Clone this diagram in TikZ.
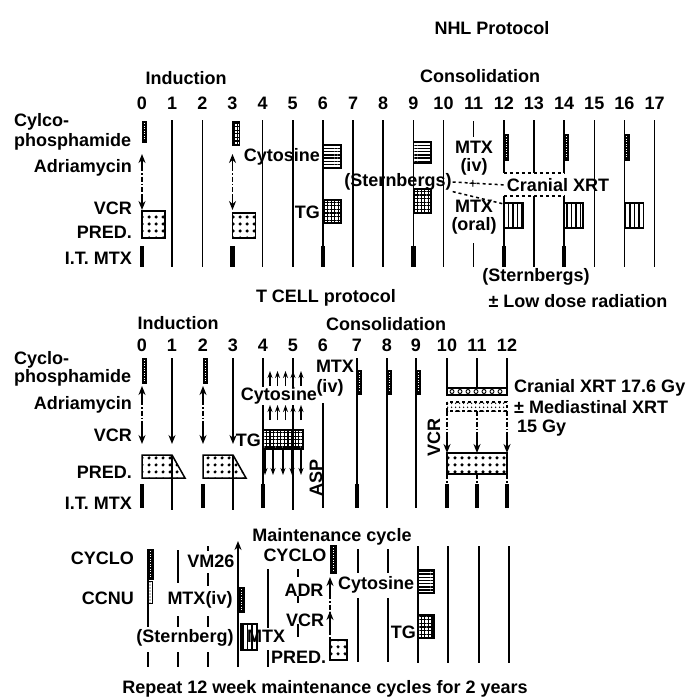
\documentclass[tikz,border=0pt]{standalone}
\usepackage{fontspec}
\setmainfont{Liberation Sans}
\usetikzlibrary{patterns.meta,arrows.meta}

\tikzset{
  wk/.style={line width=1.5pt},
  itbar/.style={line width=4.5pt},
  ddot/.style={line width=1.5pt, dash pattern=on 5pt off 2pt on 1.5pt off 2pt},
  arr/.style={line width=1.5pt, -{Stealth[length=9pt, width=7pt]}},
  sarr/.style={line width=1.3pt, -{Stealth[length=7pt, width=5pt]}},
  pred/.style={draw, line width=1.5pt, pattern={Dots[distance=6.5pt, radius=1.8pt]}},
  tgbox/.style={draw, line width=1.5pt, pattern={Hatch[distance=3.6pt, angle=0, line width=1.2pt]}},
  cytbox/.style={draw, line width=1.5pt, pattern={Lines[distance=3.2pt, angle=0, line width=1.4pt]}},
  oral/.style={draw, line width=1.5pt, pattern={Lines[distance=4.5pt, angle=90, line width=1.1pt]}},
  blk/.style={draw, line width=0.8pt, fill=black},
  wdot/.style={white, line width=1pt, dash pattern=on 1pt off 1.5pt},
  xrt/.style={dashed, line width=1.5pt}
}

\begin{document}
\begin{tikzpicture}[x=1pt, y=-1pt, inner sep=1pt, font=\bfseries\fontsize{18}{20}\selectfont]
  \useasboundingbox (0,0) rectangle (690,699);
  % NHL protocol
  \node (nhl) at (492,28) {NHL Protocol};
  \node (ind1) at (186,78) {Induction};
  \node (con1) at (480,76) {Consolidation};
  \foreach \i [evaluate=\i as \x using 142+30.15*\i] in {0,...,17}
    \node (w1-\i) at (\x,103) {\i};
  % week lines
  \foreach \i [evaluate=\i as \x using 142+30.15*\i] in {1,2,4,5,6,7,8,9,10,15,16,17}
    \draw[wk] (\x,120) -- (\x,267);
  \foreach \i [evaluate=\i as \x using 142+30.15*\i] in {12,13,14}
    \draw[wk] (\x,120) -- (\x,173) (\x,196) -- (\x,267);
  \draw[wk] (473.7,121) -- (473.7,137) (473.7,243) -- (473.7,267);
  % drugs
  \node[anchor=west] (cy1) at (13,122) {Cylco-};
  \node[anchor=west] (ph1) at (13,142) {phosphamide};
  \node[anchor=east] (ad1) at (133,168) {Adriamycin};
  \node[anchor=east] (vc1) at (133,208) {VCR};
  \node[anchor=east] (pr1) at (133,232) {PRED.};
  \node[anchor=east] (it1) at (133,258) {I.T. MTX};
  % weeks 0 and 3
  \filldraw[blk] (142,121) rectangle (146.5,142);
  \draw[wdot] (144.2,123) -- (144.2,140);
  \draw[tgbox] (232.5,122) rectangle (239.5,145);
  \foreach \x in {142,232.5} {
    \draw[ddot] (\x,166) -- (\x,198);
    \draw[arr] (\x,170) -- (\x,154);
    \draw[arr] (\x,194) -- (\x,210);
  }
  \draw[pred] (142,211) rectangle (165,238);
  \draw[pred] (232.5,213) rectangle (255.5,238);
  \foreach \x in {142,232.5,322.9,413.4,503.8,564.1}
    \draw[itbar] (\x,246) -- (\x,267);
  % cytosine and TG
  \draw[cytbox] (322.9,145) rectangle (341,168);
  \draw[cytbox] (413.4,142) rectangle (431,163);
  \draw[tgbox] (322.9,200) rectangle (341,223);
  \draw[tgbox] (413.4,189) rectangle (431,213);
  \node[anchor=east] (cs1) at (321,157) {Cytosine};
  \node[anchor=east] (tg1) at (321,212) {TG};
  % MTX iv and oral
  \foreach \x in {503.8,564.1,624.4} {
    \filldraw[blk] (\x,134) rectangle (\x+4.5,160);
    \draw[wdot] (\x+2.2,136) -- (\x+2.2,158);
    \draw[oral] (\x,203) rectangle (\x+19,228);
  }
  \node (mi1) at (474,147) {MTX};
  \node (iv1) at (474,167) {(iv)};
  \node (mo1) at (474,206) {MTX};
  \node (or1) at (474,226) {(oral)};
  % cranial XRT
  \node (sb1) at (398,182) {(Sternbergs)};
  \node (cx1) at (558,185) {Cranial XRT};
  \coordinate (ob12) at (503.8,204);
  \draw[xrt] (sb1.east) -- (cx1.west);
  \draw[xrt] (sb1.south east) -- (ob12);
  \draw[xrt] (503.8,173) -- (564.1,173) (503.8,196) -- (564.1,196);
  \node[font=\mdseries\fontsize{14}{14}\selectfont] (pl1) at (473,184) {+};
  \node (sb2) at (536,277) {(Sternbergs)};
  \node (ld1) at (578,301) {± Low dose radiation};

  % T CELL protocol
  \node (tc) at (326,298) {T CELL protocol};
  \node (ind2) at (178,323) {Induction};
  \node (con2) at (386,324) {Consolidation};
  \foreach \x [count=\i from 0] in {142,172,203,233,263,293,323,357,387,416,447,477,507}
    \node (w2-\i) at (\x,345) {\i};
  % drugs
  \node[anchor=west] (cy2) at (13,360) {Cyclo-};
  \node[anchor=west] (ph2) at (13,378) {phosphamide};
  \node[anchor=east] (ad2) at (133,405) {Adriamycin};
  \node[anchor=east] (vc2) at (133,435) {VCR};
  \node[anchor=east] (pr2) at (133,472) {PRED.};
  \node[anchor=east] (it2) at (133,503) {I.T. MTX};
  % induction
  \foreach \x in {142,203} {
    \filldraw[blk] (\x,358) rectangle (\x+4.5,383);
    \draw[wdot] (\x+2.2,360) -- (\x+2.2,381);
    \draw[ddot] (\x,400) -- (\x,430);
    \draw[arr] (\x,404) -- (\x,386);
    \draw[arr] (\x,426) -- (\x,444);
  }
  \foreach \x in {172,233} {
    \draw[arr] (\x,358) -- (\x,444);
    \draw[wk] (\x,455) -- (\x,510);
  }
  \draw[pred] (142,455) -- (172,455) -- (185,478) -- (142,478) -- cycle;
  \draw[pred] (203,455) -- (233,455) -- (246,478) -- (203,478) -- cycle;
  \foreach \x in {142,203,263,357,447,477,507}
    \draw[itbar] (\x,484) -- (\x,508);
  % weeks 4 and 5
  \draw[wk] (263,358) -- (263,430) (263,448) -- (263,484);
  \draw[wk] (293,358) -- (293,510);
  \foreach \x in {270,277.5,285.5,293,301} {
    \draw[sarr] (\x,386) -- (\x,371);
    \draw[sarr] (\x,420) -- (\x,405);
  }
  \draw[tgbox] (263,430) rectangle (303,449);
  \foreach \x in {265,273,283,292,301}
    \draw[sarr] (\x,449) -- (\x,475);
  \node[fill=white] (cs2) at (279,396) {Cytosine};
  \node[anchor=east] (tg2) at (262,440) {TG};
  \node[rotate=90] (asp) at (316,478) {ASP};
  % consolidation
  \node (mi2) at (335,366) {MTX};
  \node (iv2) at (330,388) {(iv)};
  \draw[wk] (323,403) -- (323,508);
  \foreach \x in {357,387,416} {
    \draw[wk] (\x,358) -- (\x,508);
    \filldraw[blk] (\x,370) rectangle (\x+4.5,394);
    \draw[wdot] (\x+2.2,372) -- (\x+2.2,392);
  }
  \node[rotate=90] (vc3) at (434,437) {VCR};
  \foreach \x in {447,477,507} {
    \draw[wk] (\x,358) -- (\x,388);
    \draw[ddot] (\x,411) -- (\x,440);
    \draw[arr] (\x,434) -- (\x,453);
    \draw[ddot] (\x,474) -- (\x,484);
  }
  \draw[line width=1.5pt] (447,388) rectangle (507,395);
  \foreach \x in {452,460,...,502}
    \draw[line width=0.9pt] (\x,391.5) circle (2);
  \draw[xrt, pattern={Dots[distance=4pt, radius=1pt]}] (447,402) rectangle (507,411);
  \draw[pred] (447,453) rectangle (507,474);
  \node[anchor=west] (cr2) at (513,388) {Cranial XRT 17.6 Gy};
  \node[anchor=west] (md2) at (513,407) {± Mediastinal XRT};
  \node[anchor=west] (gy2) at (516,428) {15 Gy};

  % maintenance cycle
  \node (mc) at (332,537) {Maintenance cycle};
  \node[anchor=east] (cyl3) at (135,558) {CYCLO};
  \node[anchor=east] (ccn3) at (135,598) {CCNU};
  \draw[wk] (148,549) -- (148,627) (148,652) -- (148,667);
  \filldraw[blk] (148,549) rectangle (153,579);
  \draw[wdot] (150.5,551) -- (150.5,577);
  \draw[line width=1pt, pattern={Dots[distance=3pt, radius=0.7pt]}] (148,581) rectangle (152,603);
  \draw[wk] (178,550) -- (178,583) (178,616) -- (178,627) (178,652) -- (178,667);
  \draw[wk] (208,546) -- (208,551) (208,573) -- (208,586) (208,616) -- (208,627) (208,652) -- (208,667);
  \draw[arr] (238,667) -- (238,541);
  \filldraw[blk] (238,587) rectangle (244,612);
  \draw[wdot] (241,589) -- (241,610);
  \draw[oral] (241,624) rectangle (257,650);
  \draw[wk] (268,569) -- (268,628) (268,650) -- (268,667);
  \draw[wk] (298,569) -- (298,577) (298,596) -- (298,603) (298,624) -- (298,637);
  \node (vm) at (211,561) {VM26};
  \node (mi3) at (200,600) {MTX(iv)};
  \node (sb3) at (185,638) {(Sternberg)};
  \node[anchor=west] (mo3) at (246,636) {MTX};
  % second half
  \node (cyl4) at (295,555) {CYCLO};
  \node (adr) at (304,590) {ADR};
  \node (vc4) at (305,620) {VCR};
  \node[anchor=west] (pr4) at (270,657) {PRED.};
  \filldraw[blk] (330,545) rectangle (336,573);
  \draw[wdot] (333,547) -- (333,571);
  \draw[arr] (330,594) -- (330,577);
  \draw[ddot] (330,594) -- (330,616);
  \draw[arr] (330,630) -- (330,611);
  \draw[ddot] (330,630) -- (330,640);
  \draw[pred] (330,640) rectangle (347,660);
  \foreach \x in {358,388}
    \draw[wk] (\x,549) -- (\x,573) (\x,598) -- (\x,662);
  \foreach \x in {418,448,479,509}
    \draw[wk] (\x,546) -- (\x,663);
  \draw[cytbox] (418,570) rectangle (434,593);
  \draw[tgbox] (418,615) rectangle (434,638);
  \node[anchor=west] (cs4) at (337,585) {Cytosine};
  \node[anchor=east] (tg4) at (417,632) {TG};
  \node (rep) at (325,689) {Repeat 12 week maintenance cycles for 2 years};
\end{tikzpicture}
\end{document}
